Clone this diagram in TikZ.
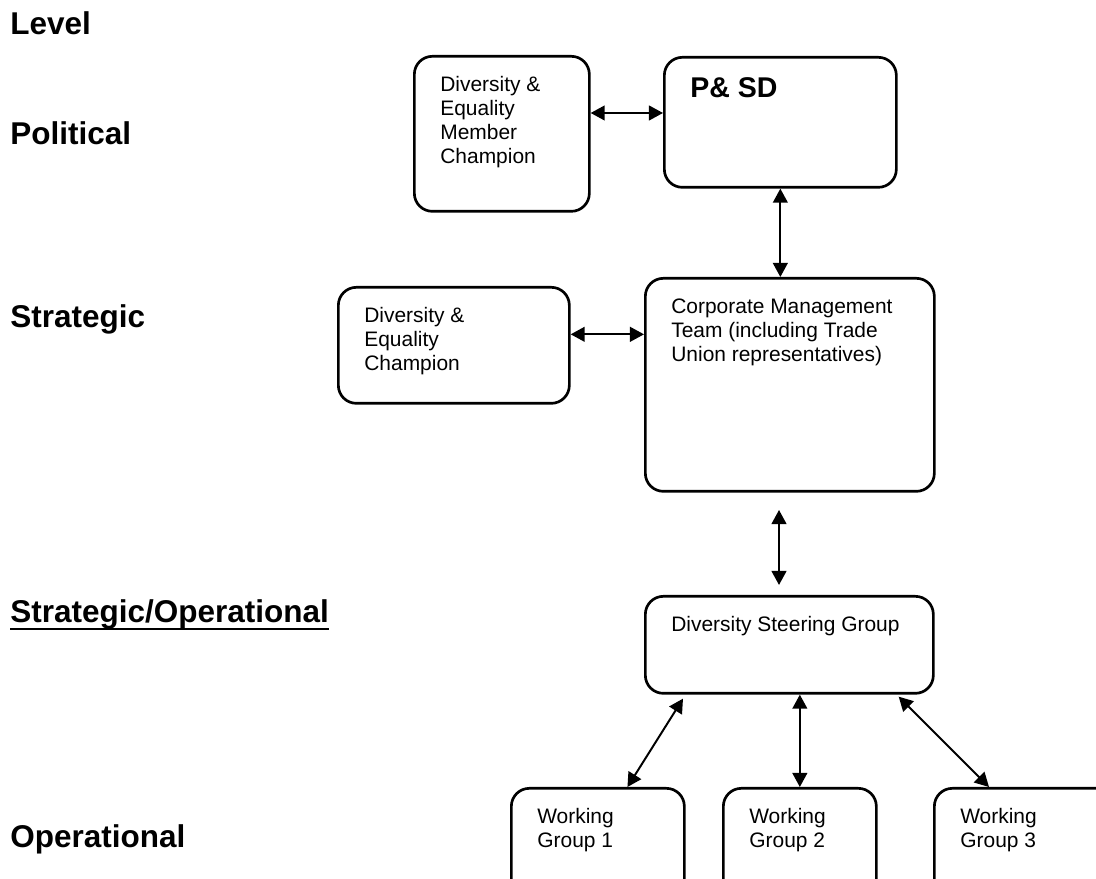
\documentclass[tikz,border=0pt]{standalone}
\usepackage{fontspec}
\setmainfont{Liberation Sans}
\usetikzlibrary{arrows.meta}
\newcommand{\boxtext}[3]{\parbox[t][#2][t]{#1}{\raggedright\strut#3}}

\begin{document}
\begin{tikzpicture}[
  unit/.style={draw, line width=1.9pt, rounded corners=0.45cm, anchor=north west,
    inner xsep=0.65cm, inner ysep=0.45cm, font=\fontsize{14.9pt}{17.1pt}\selectfont},
  level/.style={anchor=base west, inner sep=0pt, font=\fontsize{22.4pt}{26pt}\selectfont\bfseries},
  link/.style={line width=1.4pt, {Triangle[length=10pt,width=10.5pt]}-{Triangle[length=10pt,width=10.5pt]}}
]
  \clip (0,0) rectangle (27.4,21.975);
  \node[level] (l0) at (0.25,21.1)  {Level};
  \node[level] (l1) at (0.25,18.35) {Political};
  \node[level] (l2) at (0.25,13.775) {Strategic};
  \node[level] (l3) at (0.25,6.4)   {Strategic/Operational};
  \node[level] (l4) at (0.25,0.775) {Operational};
  \draw[line width=2.1pt] ([yshift=-0.15cm]l3.base west) -- ([yshift=-0.15cm]l3.base east);

  \node[unit] (mc)  at (10.325,20.6)  {\boxtext{3.075cm}{2.975cm}{Diversity \&\\Equality\\Member\\Champion}};
  \node[unit, font=\fontsize{20.3pt}{23pt}\selectfont\bfseries] (psd) at (16.575,20.575) {\boxtext{4.5cm}{2.35cm}{P\& SD}};
  \node[unit] (ec)  at (8.425,14.825) {\boxtext{4.475cm}{2.0cm}{Diversity \&\\Equality\\Champion}};
  \node[unit] (cmt) at (16.1,15.05)   {\boxtext{5.925cm}{4.425cm}{Corporate Management\\Team (including Trade\\Union representatives)}};
  \node[unit] (dsg) at (16.1,7.1)     {\boxtext{5.9cm}{1.525cm}{Diversity Steering Group}};
  \node[unit] (w1)  at (12.75,2.3)    {\boxtext{3.025cm}{2.05cm}{Working\\Group 1}};
  \node[unit] (w2)  at (18.05,2.3)    {\boxtext{2.525cm}{2.05cm}{Working\\Group 2}};
  \node[unit] (w3)  at (23.325,2.3)   {\boxtext{3.7cm}{2.05cm}{Working\\Group 3}};

  \coordinate (t1) at (19.475,9.225);
  \coordinate (t2) at (19.475,7.35);

  \draw[link] ([yshift=-1.45cm]mc.north east) -- ([yshift=-1.45cm]mc.north east -| psd.west);
  \draw[link] (psd.south) -- (psd.south |- cmt.north);
  \draw[link] ([yshift=0.275cm]ec.east) -- ([yshift=0.275cm]ec.east -| cmt.west);
  \draw[link] (t1) -- (t2);
  \draw[link] ([xshift=0.975cm,yshift=-0.1cm]dsg.south west) -- ([xshift=0.74cm]w1.north);
  \draw[link] (w2.north |- dsg.south) -- (w2.north);
  \draw[link] ([xshift=-0.9cm,yshift=-0.05cm]dsg.south east) -- ([xshift=1.4cm]w3.north west);
\end{tikzpicture}
\end{document}
